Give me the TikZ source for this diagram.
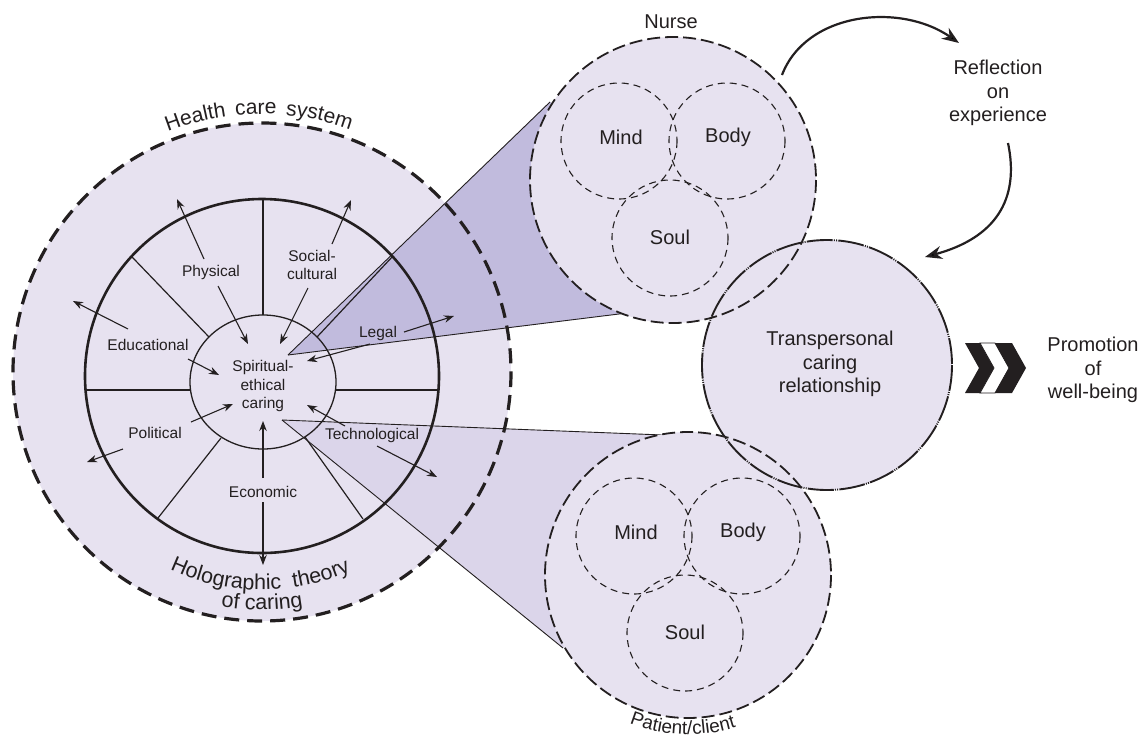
\documentclass[tikz,border=0pt]{standalone}
\usepackage{fontspec}
\setmainfont{Liberation Sans}
\usetikzlibrary{arrows.meta,decorations.text,calc}

\definecolor{lav}{RGB}{231,226,240}
\definecolor{wedgeA}{RGB}{193,187,221}
\definecolor{wedgeB}{RGB}{219,213,234}
\definecolor{ink}{RGB}{35,31,32}

\begin{document}
\begin{tikzpicture}[x=1pt,y=-1pt,
  every node/.style={text=ink, inner sep=0pt, align=center},
  small/.style={font=\fontsize{15.5}{18.5}\selectfont},
  large/.style={font=\fontsize{20}{23.5}\selectfont},
  spoke/.style={draw=ink, line width=1.2pt},
  ptr/.style={draw=ink, line width=1.1pt, -{Stealth[length=10pt,width=7.5pt]}},
  loop/.style={draw=ink, line width=2.2pt, -{Stealth[length=17pt,width=13pt]}},
  rim/.style={draw=ink, line width=3.2pt, dash pattern=on 15pt off 8pt},
  member/.style={draw=ink, line width=1.8pt, dash pattern=on 13pt off 5pt},
  facet/.style={draw=ink, line width=1.1pt, dash pattern=on 7pt off 5pt},
  bond/.style={draw=ink, line width=1.9pt, dash pattern=on 26pt off 1.2pt on 1pt off 1.2pt on 1pt off 1.2pt},
  ray/.style={draw=ink, line width=0.9pt},
  curved/.style={decorate, decoration={text along path, text align=center, text color=ink}},
  spread/.style={decorate, decoration={text along path, text align={fit to path stretching spaces}, text color=ink}}]

\fill[white] (0,0) rectangle (1141,737);
\useasboundingbox (0,0) rectangle (1141,737);

% centres of the circles
\coordinate (W) at (262,372);   % health care system
\coordinate (R) at (262,376);   % ring of influences
\coordinate (S) at (263,382);   % spiritual-ethical core
\coordinate (N) at (673,180);   % nurse
\coordinate (P) at (688,575);   % patient/client
\coordinate (T) at (827,365);   % transpersonal relationship

% projection wedges
\coordinate (aU) at (288,355);
\coordinate (tU) at (550,102);
\coordinate (bU) at (627,313);
\coordinate (aL) at (282,420);
\coordinate (tL) at (663,435);
\coordinate (bL) at (563,648);

% ---- wheel ----
\fill[lav] (W) circle[radius=249];
\fill[wedgeA] (aU) -- (tU) -- (N) -- (bU) -- cycle;
\fill[wedgeB] (aL) -- (tL) -- (P) -- (bL) -- cycle;
\draw[rim] (W) circle[radius=249];
\draw[ink, line width=2.6pt] (R) circle[radius=177];
\draw[ink, line width=1.3pt] (S) ellipse[x radius=73, y radius=67];

\draw[spoke] (263,198) -- (263,315);
\draw[spoke] (131.5,256.4) -- (209,337);
\draw[spoke] (393,256) -- (317,337);
\draw[spoke] (86,390) -- (191,390);
\draw[spoke] (336,390) -- (438,390);
\draw[spoke] (158,518) -- (221,438);
\draw[spoke] (363,519) -- (305,437);

\draw[ray] (aU) -- (tU);
\draw[ray] (aU) -- (bU);
\draw[ray] (aL) -- (tL);
\draw[ray] (aL) -- (bL);

% ---- persons and relationship ----
\fill[lav] (T) circle[radius=125];
\fill[lav] (N) circle[radius=143];
\fill[lav] (P) circle[radius=143];
\draw[bond] (T) circle[radius=125];
\draw[member] (N) circle[radius=143];
\draw[member] (P) circle[radius=143];

\foreach \c in {N,P}{
  \draw[facet] ($(\c)+(-54,-39)$) circle[radius=58];
  \draw[facet] ($(\c)+(54,-39)$) circle[radius=58];
  \draw[facet] ($(\c)+(-3,58)$) circle[radius=58];
}

% ---- labels of the wheel ----
\node[small] (phys) at (211,272) {Physical};
\node[small] (soc)  at (312,265) {Social-\\cultural};
\node[small] (edu)  at (148,345) {Educational};
\node[small] (leg)  at (378,333) {Legal};
\node[small] (spir) at (263,386) {Spiritual-\\ethical\\caring};
\node[small] (pol)  at (155,433) {Political};
\node[small] (tech) at (372,435) {Technological};
\node[small] (eco)  at (263,492) {Economic};

% arrow ends around the labels
\coordinate (physO1) at (204,259); \coordinate (physO2) at (177,199);
\coordinate (physI1) at (218,286); \coordinate (physI2) at (248,344);
\coordinate (socO1)  at (332,244); \coordinate (socO2)  at (351,200);
\coordinate (socI1)  at (308,288); \coordinate (socI2)  at (280,344);
\coordinate (eduO1)  at (128,329); \coordinate (eduO2)  at (73,301);
\coordinate (eduI1)  at (188,359); \coordinate (eduI2)  at (219,375);
\coordinate (legO1)  at (404,332); \coordinate (legO2)  at (454,316);
\coordinate (legI1)  at (370,344); \coordinate (legI2)  at (307,361);
\coordinate (polI1)  at (191,422); \coordinate (polI2)  at (233,404);
\coordinate (polO1)  at (123,449); \coordinate (polO2)  at (87,462);
\coordinate (tecI1)  at (345,426); \coordinate (tecI2)  at (307,405);
\coordinate (tecO1)  at (377,446); \coordinate (tecO2)  at (437,477);
\coordinate (ecoI1)  at (263,478); \coordinate (ecoI2)  at (263,421);
\coordinate (ecoO1)  at (263,502); \coordinate (ecoO2)  at (263,565);

\foreach \a in {physO,physI,socO,socI,eduO,eduI,legO,legI,polI,polO,tecI,tecO,ecoI,ecoO}
  \draw[ptr] (\a1) -- (\a2);

% curved titles of the wheel
\path[spread, decoration={text={|\fontsize{21}{25}\selectfont|Health care system}}]
  ($(W)+(248.6:258)$) arc[start angle=248.6, end angle=290, radius=258];
\path[spread, decoration={text={|\fontsize{21.5}{25}\selectfont|Holographic theory}}]
  ($(W)+(115:218)$) arc[start angle=115, end angle=66, radius=218];
\path[curved, decoration={text={|\fontsize{21.5}{25}\selectfont|of caring}}]
  ($(W)+(130:238)$) arc[start angle=130, end angle=50, radius=238];

% ---- texts of the persons ----
\node[large] (nurse) at (671,22) {Nurse};
\foreach \c/\p in {N/n,P/p}{
  \node[large] (\p mind) at ($(\c)+(-52,-43)$) {Mind};
  \node[large] (\p body) at ($(\c)+(55,-43)$) {Body};
  \node[large] (\p soul) at ($(\c)+(-3,57)$) {Soul};
}
\path[curved, decoration={text={|\fontsize{19}{23}\selectfont|Patient/client}}]
  ($(P)+(137:159.5)$) arc[start angle=137, end angle=47, radius=159.5];

\node[large] (trans) at (830,364) {Transpersonal\\caring\\relationship};
\node[large] (refl)  at (998,93) {Reflection\\on\\experience};
\node[large] (prom)  at (1093,370) {Promotion\\of\\well-being};

% reflection loop
\coordinate (l1a) at (782,75);  \coordinate (l1b) at (959,43);
\coordinate (l2a) at (1008,143); \coordinate (l2b) at (925,257);
\draw[loop] (l1a) .. controls (806,12) and (900,2) .. (l1b);
\draw[loop] (l2a) .. controls (1020,200) and (995,238) .. (l2b);

% chevrons toward well-being
\fill[ink] (965,343) -- (982,343) -- (996,368) -- (982,393) -- (965,393) -- (979,368) -- cycle;
\filldraw[fill=white, draw=ink, line width=0.8pt] (980,343) -- (995,343) -- (1009,368) -- (995,393) -- (980,393) -- (994,368) -- cycle;
\fill[ink] (995,343) -- (1012,343) -- (1026,368) -- (1012,393) -- (995,393) -- (1009,368) -- cycle;
\end{tikzpicture}
\end{document}
